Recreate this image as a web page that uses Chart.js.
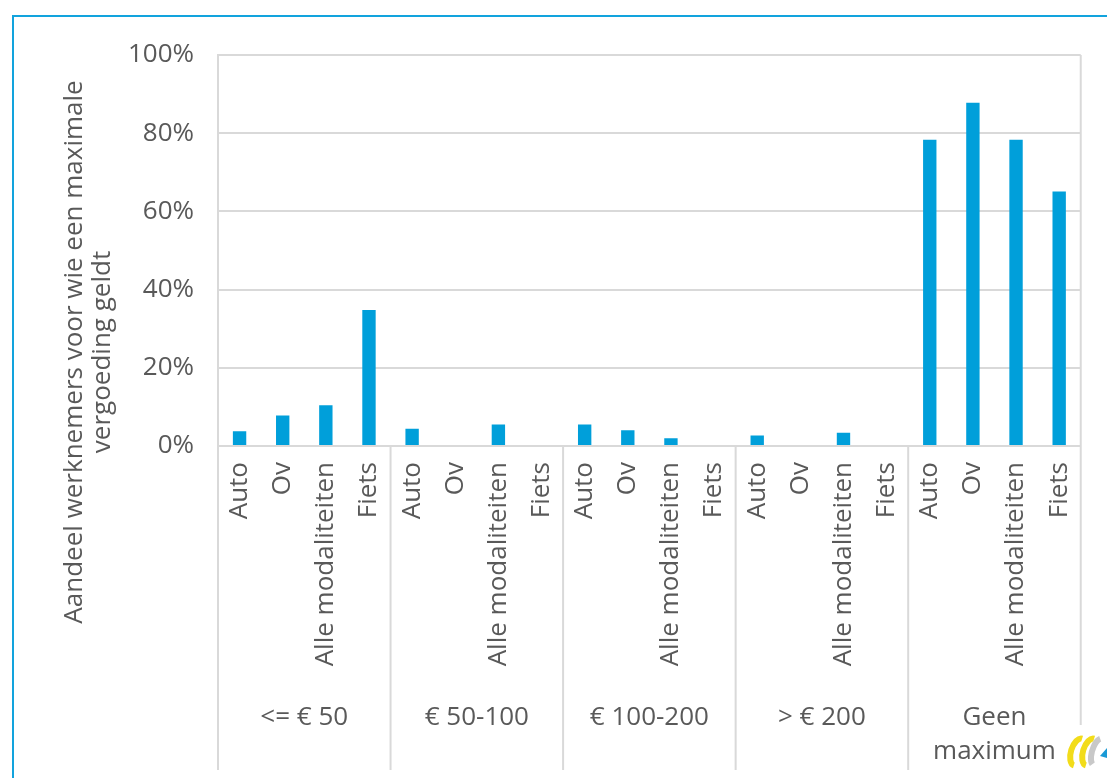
<!DOCTYPE html>
<html>
<head>
<meta charset="utf-8">
<script src="https://cdn.jsdelivr.net/npm/chart.js@4"></script>
<style>
    body { margin: 0; background: #fff; }
    #wrap { width: 1107px; height: 778px; position: relative; }
</style>
</head>
<body>
<div id="wrap"><canvas id="grafico"></canvas></div>
<script>
// Data
const groepen = ['<= € 50', '€ 50-100', '€ 100-200', '> € 200', ['Geen', 'maximum']];
const modaliteiten = ['Auto', 'Ov', 'Alle modaliteiten', 'Fiets'];
const waardenTot50 = [3.8, 7.8, 10.4, 34.8];
const waarden50tot100 = [4.4, 0, 5.5, 0];
const waarden100tot200 = [5.5, 4.0, 2.0, 0];
const waardenBoven200 = [2.7, 0, 3.4, 0];
const waardenGeenMax = [78.3, 87.8, 78.3, 65.1];
const yTicks = [0, 20, 40, 60, 80, 100];
const yTitel = ['Aandeel werknemers voor wie een maximale', 'vergoeding geldt'];

const labels = groepen.flatMap(() => modaliteiten);
const waarden = [].concat(waardenTot50, waarden50tot100, waarden100tot200, waardenBoven200, waardenGeenMax);

const FONT = '"Open Sans", sans-serif';
const GRIJS = '#d9d9d9';
const TEKST = '#595959';

// Groepslabels, scheidingslijnen, astitel en rand
const extraTekenen = {
    id: 'extraTekenen',
    afterDraw(chart) {
        const ctx = chart.ctx;
        const x = chart.scales.x;
        const area = chart.chartArea;
        const n = modaliteiten.length;
        const onder = 770;

        ctx.save();
        // blauwe rand
        ctx.strokeStyle = '#12a3dd';
        ctx.lineWidth = 2;
        ctx.beginPath();
        ctx.moveTo(13, 800);
        ctx.lineTo(13, 16);
        ctx.lineTo(1120, 16);
        ctx.stroke();

        // scheidingslijnen tussen groepen
        ctx.strokeStyle = GRIJS;
        ctx.lineWidth = 2;
        for (let g = 0; g <= groepen.length; g++) {
            let px;
            if (g === 0) px = area.left;
            else if (g === groepen.length) px = area.right;
            else px = (x.getPixelForValue(g * n - 1) + x.getPixelForValue(g * n)) / 2;
            const boven = g === groepen.length ? area.top : area.bottom;
            const eind = g === groepen.length ? 725 : onder;
            ctx.beginPath();
            ctx.moveTo(px, boven);
            ctx.lineTo(px, eind);
            ctx.stroke();
        }

        // groepslabels
        ctx.fillStyle = TEKST;
        ctx.font = '26px ' + FONT;
        ctx.textAlign = 'center';
        ctx.textBaseline = 'middle';
        groepen.forEach((g, i) => {
            const cx = (x.getPixelForValue(i * n) + x.getPixelForValue(i * n + n - 1)) / 2;
            const regels = Array.isArray(g) ? g : [g];
            regels.forEach((r, j) => ctx.fillText(r, cx, 718 + j * 34));
        });

        // y-as titel
        ctx.translate(89, 352);
        ctx.rotate(-Math.PI / 2);
        yTitel.forEach((r, j) => ctx.fillText(r, 0, -14 + j * 28));
        ctx.restore();

        // logo (benadering)
        ctx.save();
        ctx.lineWidth = 6;
        ctx.strokeStyle = '#f2dc1a';
        ctx.beginPath();
        ctx.ellipse(1078, 752, 7, 14, 0.3, Math.PI * 0.5, Math.PI * 1.5);
        ctx.stroke();
        ctx.beginPath();
        ctx.ellipse(1090, 752, 7, 14, 0.3, Math.PI * 0.5, Math.PI * 1.5);
        ctx.stroke();
        ctx.strokeStyle = '#c8c8c8';
        ctx.beginPath();
        ctx.ellipse(1098, 752, 6, 14, 0.3, Math.PI * 0.6, Math.PI * 1.4);
        ctx.stroke();
        ctx.fillStyle = '#1a9ad6';
        ctx.beginPath();
        ctx.moveTo(1100, 756);
        ctx.lineTo(1107, 748);
        ctx.lineTo(1107, 758);
        ctx.closePath();
        ctx.fill();
        ctx.restore();
    }
};

new Chart(document.getElementById('grafico'), {
    type: 'bar',
    data: {
        labels: labels,
        datasets: [{
            data: waarden,
            backgroundColor: '#009fda',
            borderWidth: 0,
            barPercentage: 0.31,
            categoryPercentage: 1
        }]
    },
    options: {
        responsive: true,
        maintainAspectRatio: false,
        animation: false,
        layout: { padding: { top: 55, right: 25, left: 0, bottom: 0 } },
        plugins: { legend: { display: false }, tooltip: { enabled: false } },
        scales: {
            x: {
                grid: { display: false, drawTicks: false },
                border: { display: false },
                ticks: {
                    color: TEKST,
                    font: { family: FONT, size: 26 },
                    minRotation: 90,
                    maxRotation: 90,
                    autoSkip: false,
                    padding: 16
                },
                afterFit(scale) { scale.height = 778 - 446; }
            },
            y: {
                min: 0,
                max: 100,
                afterBuildTicks(scale) { scale.ticks = yTicks.map(v => ({ value: v })); },
                grid: { color: GRIJS, lineWidth: 2, drawTicks: false },
                border: { display: true, color: GRIJS, width: 2 },
                ticks: {
                    color: TEKST,
                    font: { family: FONT, size: 26 },
                    padding: 24,
                    callback: v => v + '%'
                },
                afterFit(scale) { scale.width = 218; }
            }
        }
    },
    plugins: [extraTekenen]
});
</script>
</body>
</html>
